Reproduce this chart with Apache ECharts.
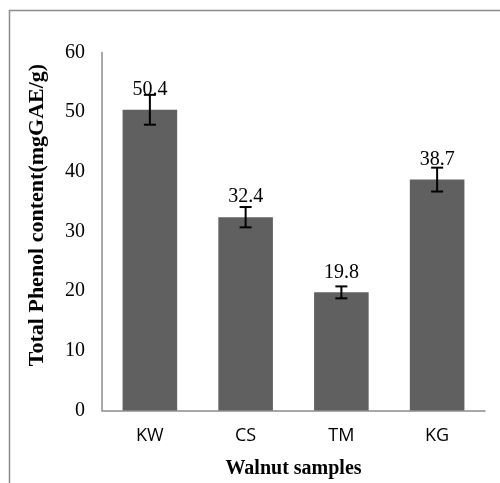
<!DOCTYPE html>
<html>
<head>
<meta charset="utf-8">
<script src="https://cdn.jsdelivr.net/npm/echarts@6/dist/echarts.min.js"></script>
<style>
html,body{margin:0;padding:0;background:#fff;}
#c{width:500px;height:483px;}
</style>
</head>
<body>
<div id="c"></div>
<script>
var categories = ['KW', 'CS', 'TM', 'KG'];
var values = [50.4, 32.4, 19.8, 38.7];
var errors = [2.5, 1.7, 1.0, 2.0];
var yTicks = [0, 10, 20, 30, 40, 50, 60];

var chart = echarts.init(document.getElementById('c'), null, {renderer: 'canvas'});
var serif = '"Liberation Serif", "Times New Roman", serif';
var sans = '"Open Sans", "Liberation Sans", sans-serif';

var errData = categories.map(function (c, i) {
  return [i, values[i] - errors[i], values[i] + errors[i]];
});

chart.setOption({
  animation: false,
  backgroundColor: '#ffffff',
  grid: {left: 102, right: 15, top: 52.5, bottom: 72.5, containLabel: false,
         outerBoundsMode: 'none'},
  graphic: [
    {type: 'rect', shape: {x: 9.5, y: 10.5, width: 600, height: 600},
     style: {fill: null, stroke: '#8c8c8c', lineWidth: 1.5}, silent: true},
    {type: 'text', x: 37, y: 215, rotation: Math.PI / 2,
     style: {text: 'Total Phenol content(mgGAE/g)', font: 'bold 22px ' + serif,
             fill: '#000', textAlign: 'center', textVerticalAlign: 'middle'}}
  ],
  xAxis: {
    type: 'category',
    data: categories,
    axisLine: {lineStyle: {color: '#8c8c8c', width: 1.5}},
    axisTick: {show: false},
    axisLabel: {color: '#000', fontFamily: sans, fontSize: 18, margin: 16},
    name: 'Walnut samples',
    nameLocation: 'middle',
    nameGap: 48,
    nameTextStyle: {color: '#000', fontFamily: serif, fontWeight: 'bold', fontSize: 20}
  },
  yAxis: {
    type: 'value',
    min: 0, max: 60, interval: 10,
    axisLine: {show: true, lineStyle: {color: '#8c8c8c', width: 1.5}},
    axisTick: {show: false},
    splitLine: {show: false},
    axisLabel: {color: '#000', fontFamily: serif, fontSize: 20, margin: 17,
      padding: [4, 0, 0, 0],
      formatter: function (v) { return yTicks.indexOf(v) >= 0 ? String(v) : ''; }}
  },
  series: [
    {
      type: 'bar',
      data: values,
      barWidth: '57%',
      itemStyle: {color: '#606060'},
      label: {show: true, position: 'top', distance: 10, color: '#000',
              fontFamily: serif, fontSize: 20}
    },
    {
      type: 'custom',
      data: errData,
      z: 10,
      renderItem: function (params, api) {
        var x = api.value(0);
        var lo = api.coord([x, api.value(1)]);
        var hi = api.coord([x, api.value(2)]);
        var hw = 6;
        var st = {stroke: '#000', lineWidth: 2};
        return {
          type: 'group',
          children: [
            {type: 'line', shape: {x1: hi[0], y1: hi[1], x2: lo[0], y2: lo[1]}, style: st},
            {type: 'line', shape: {x1: hi[0] - hw, y1: hi[1], x2: hi[0] + hw, y2: hi[1]}, style: st},
            {type: 'line', shape: {x1: lo[0] - hw, y1: lo[1], x2: lo[0] + hw, y2: lo[1]}, style: st}
          ]
        };
      }
    }
  ]
});
</script>
</body>
</html>
